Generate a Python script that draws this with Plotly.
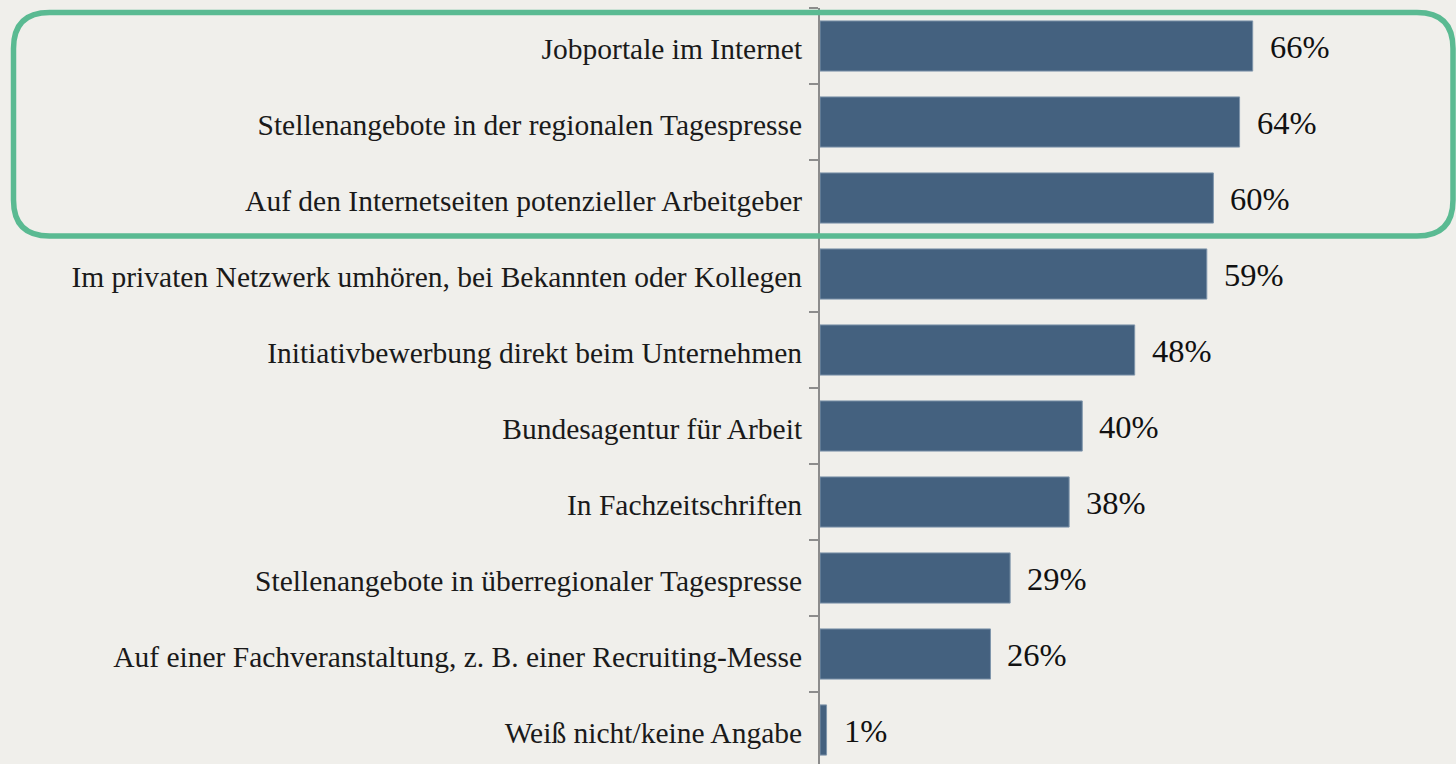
import plotly.graph_objects as go

categories = [
    "Jobportale im Internet",
    "Stellenangebote in der regionalen Tagespresse",
    "Auf den Internetseiten potenzieller Arbeitgeber",
    "Im privaten Netzwerk umhören, bei Bekannten oder Kollegen",
    "Initiativbewerbung direkt beim Unternehmen",
    "Bundesagentur für Arbeit",
    "In Fachzeitschriften",
    "Stellenangebote in überregionaler Tagespresse",
    "Auf einer Fachveranstaltung, z. B. einer Recruiting-Messe",
    "Weiß nicht/keine Angabe",
]
values = [66, 64, 60, 59, 48, 40, 38, 29, 26, 1]
value_labels = [f"{v}%" for v in values]

W, H = 1456, 764
L, T, B, R = 820, 8, 0, 0
PW, PH = W - L - R, H - T - B
PX_PER_PCT = 6.556
BAND = 76.0

BG = "#f0efeb"
BAR = "#44617f"
GREEN = "#5aba92"
FONT = "Liberation Serif"

fig = go.Figure()
fig.add_trace(go.Bar(
    x=values, y=categories, orientation="h",
    marker=dict(color=BAR, line=dict(color="#7f95ab", width=1)),
    width=0.66, hoverinfo="skip",
))

for c, v, t in zip(categories, values, value_labels):
    fig.add_annotation(x=v, y=c, text=t, showarrow=False, xanchor="left",
                       xshift=15, yshift=-1, font=dict(family=FONT, size=32.5, color="#111111"))

# rounded rectangle (pixel coords -> paper)
def px2paper(px, py):
    return (px - L) / PW, (H - B - py) / PH

x0, y0, x1, y1, r = 13.5, 12.5, 1453, 236, 36
def P(px, py):
    a, b = px2paper(px, py)
    return f"{a:.5f},{b:.5f}"
path = (f"M {P(x0 + r, y0)} L {P(x1 - r, y0)} Q {P(x1, y0)} {P(x1, y0 + r)} "
        f"L {P(x1, y1 - r)} Q {P(x1, y1)} {P(x1 - r, y1)} "
        f"L {P(x0 + r, y1)} Q {P(x0, y1)} {P(x0, y1 - r)} "
        f"L {P(x0, y0 + r)} Q {P(x0, y0)} {P(x0 + r, y0)} Z")
fig.add_shape(type="path", path=path, xref="paper", yref="paper",
              line=dict(color=GREEN, width=5.5), layer="above")

fig.update_layout(
    width=W, height=H,
    margin=dict(l=L, r=R, t=T, b=B, pad=0),
    paper_bgcolor=BG, plot_bgcolor=BG,
    showlegend=False,
    bargap=0.34,
    xaxis=dict(range=[0, PW / PX_PER_PCT], visible=False, fixedrange=True),
    yaxis=dict(
        type="category",
        categoryorder="array", categoryarray=categories,
        range=[-0.5 + PH / BAND, -0.5],
        showline=True, linecolor="#8c8c8c", linewidth=2,
        ticks="outside", ticklen=9, tickcolor="#8c8c8c", tickwidth=2,
        tickson="boundaries",
        showgrid=False, zeroline=False,
        tickfont=dict(family=FONT, size=29.5, color="#1a1a1a"),
        ticklabelstandoff=10,
        ticklabelshift=-3,
    ),
)

fig.write_html(
    "out.html",
    config={"displayModeBar": False},
    post_script="document.body.style.margin='0';document.body.style.background='#f0efeb';",
)
